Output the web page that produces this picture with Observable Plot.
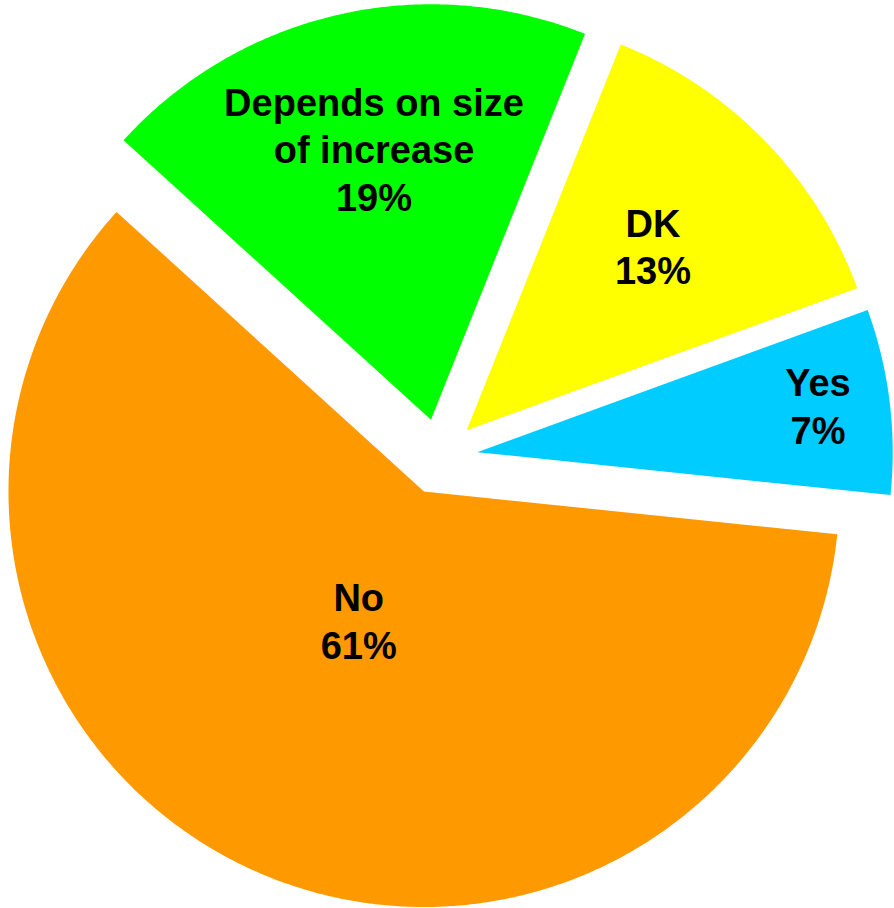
<!DOCTYPE html>
<html>
<head>
<meta charset="utf-8">
<script src="https://cdn.jsdelivr.net/npm/d3@7"></script>
<script src="https://cdn.jsdelivr.net/npm/@observablehq/plot@0.6"></script>
<style>
  html, body { margin: 0; padding: 0; background: #ffffff; }
  #chart svg { display: block; background: #ffffff; }
</style>
</head>
<body>
<div id="chart"></div>
<script>
// ---- Data ----
const categories = ["Yes", "No", "Depends on size\nof increase", "DK"];
const shares = [7.2, 60.1, 19.3, 13.4];          // slice sizes
const percentLabels = ["7%", "61%", "19%", "13%"]; // labels as printed
const colors = ["#00CCFF", "#FF9900", "#00FF00", "#FFFF00"];

// ---- Layout ----
const W = 894, H = 908;
const R = 415.5;            // pie radius in px (1 unit)
const CX = 439, CY = 456.3; // pie centre in px
const startDeg = 70;        // first slice starts here (clockwise from 12 o'clock)
const explode = 38 / R;     // explosion distance in radius units
const labelRadius = [0.828, 0.346, 0.668, 0.632];
const labelTurnDeg = [-0.9, 2.9, 1.14, -0.74];

const rows = categories.map((c, i) => ({category: c, share: shares[i], pct: percentLabels[i], lr: labelRadius[i], lt: labelTurnDeg[i]}));
const arcs = d3.pie().sort(null).value(d => d.share)
  .startAngle(startDeg * Math.PI / 180)
  .endAngle(startDeg * Math.PI / 180 + 2 * Math.PI)(rows);

const polyPoints = [];
const labelRows = [];
arcs.forEach(a => {
  const mid = (a.startAngle + a.endAngle) / 2;
  const ox = explode * Math.sin(mid), oy = explode * Math.cos(mid);
  polyPoints.push({category: a.data.category, x: ox, y: oy});
  const steps = Math.max(8, Math.ceil((a.endAngle - a.startAngle) / (0.4 * Math.PI / 180)));
  for (let k = 0; k <= steps; k++) {
    const t = a.startAngle + (a.endAngle - a.startAngle) * k / steps;
    polyPoints.push({category: a.data.category, x: ox + Math.sin(t), y: oy + Math.cos(t)});
  }
  const la = mid + a.data.lt * Math.PI / 180;
  labelRows.push({
    category: a.data.category,
    text: a.data.category + "\n" + a.data.pct,
    x: ox + a.data.lr * Math.sin(la),
    y: oy + a.data.lr * Math.cos(la)
  });
});

const chart = Plot.plot({
  width: W,
  height: H,
  margin: 0,
  x: {domain: [-CX / R, (W - CX) / R], axis: null},
  y: {domain: [-(H - CY) / R, CY / R], axis: null},
  color: {domain: categories, range: colors},
  style: {background: "#ffffff"},
  marks: [
    Plot.line(polyPoints, {x: "x", y: "y", z: "category", fill: "category", stroke: null, curve: "linear"}),
    Plot.text(labelRows, {
      x: "x", y: "y", text: "text",
      fontSize: 38, fontWeight: "bold",
      fontFamily: "'Liberation Sans', Arial, sans-serif",
      lineHeight: 1.25, fill: "#000000"
    })
  ]
});
document.getElementById("chart").appendChild(chart);
</script>
</body>
</html>
